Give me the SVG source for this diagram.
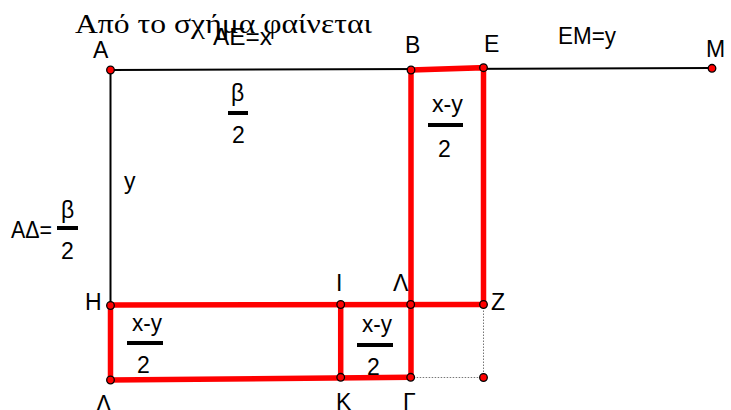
<svg xmlns="http://www.w3.org/2000/svg" width="731" height="410" viewBox="0 0 731 410">
<style>
.t{font-family:"Liberation Sans",Arial,sans-serif;font-size:23px;fill:#000}
.ti{font-family:"Liberation Serif","Times New Roman",serif;font-size:27px;fill:#000}
.red{stroke:#ff0000;stroke-width:5.5;fill:none;stroke-linecap:butt}
.blk{stroke:#000;stroke-width:2;fill:none}
.dot{stroke:#777;stroke-width:1;stroke-dasharray:1.5 1.5;fill:none}
.bar{stroke:#000;stroke-width:4}
.pt{fill:#ff0000;stroke:#000;stroke-width:1.3}
</style>
<rect width="731" height="410" fill="#fff"/>
<text class="ti" x="75" y="33" textLength="297" lengthAdjust="spacingAndGlyphs">Από το σχήμα φαίνεται</text>
<g id="connectors">
<line class="blk" x1="110.5" y1="70" x2="712" y2="68" stroke="#00002a"/>
<line class="blk" x1="110.5" y1="70" x2="110.5" y2="305.5"/>
<line class="dot" x1="483.5" y1="304.5" x2="483.5" y2="377.5"/>
<line class="dot" x1="410.7" y1="377.5" x2="483.5" y2="377.5"/>
<polyline class="red" points="411,70 483.5,67.7 483.5,304.5"/>
<line class="red" x1="411" y1="70" x2="411" y2="377.5"/>
<line class="red" x1="110.5" y1="305" x2="483.5" y2="304.5"/>
<polyline class="red" points="110.5,305 110.5,380 410.7,377.3"/>
<line class="red" x1="340.7" y1="304.5" x2="340.7" y2="377.5"/>
</g>
<g id="A"><circle class="pt" cx="110.5" cy="70" r="3.8"/><text class="t" x="93" y="58">Α</text></g>
<g id="B"><circle class="pt" cx="411" cy="70" r="3.8"/><text class="t" x="405" y="53">Β</text></g>
<g id="E"><circle class="pt" cx="483.5" cy="67.7" r="3.8"/><text class="t" x="484" y="52">Ε</text></g>
<g id="M"><circle class="pt" cx="712" cy="68.3" r="3.8"/><text class="t" x="706" y="57">Μ</text></g>
<g id="H"><circle class="pt" cx="110.5" cy="305.5" r="3.8"/><text class="t" x="85" y="310">Η</text></g>
<g id="Delta"><circle class="pt" cx="110.5" cy="380" r="3.8"/><text class="t" x="96" y="412">Λ</text></g>
<g id="I"><circle class="pt" cx="340.7" cy="304.5" r="3.8"/><text class="t" x="336" y="291">Ι</text></g>
<g id="Lambda"><circle class="pt" cx="410.7" cy="304.5" r="3.8"/><text class="t" x="393" y="291">Λ</text></g>
<g id="Z"><circle class="pt" cx="483.5" cy="304.5" r="3.8"/><text class="t" x="491" y="310">Ζ</text></g>
<g id="K"><circle class="pt" cx="340.7" cy="377.3" r="3.8"/><text class="t" x="336" y="410">Κ</text></g>
<g id="Gamma"><circle class="pt" cx="410.7" cy="377.3" r="3.8"/><text class="t" x="403" y="410">Γ</text></g>
<g id="P"><circle class="pt" cx="483.5" cy="377.5" r="3.8"/></g>
<g id="labels">
<text class="t" x="213" y="45" textLength="59" lengthAdjust="spacingAndGlyphs">ΑΕ=x</text>
<text class="t" x="558" y="44" textLength="58" lengthAdjust="spacingAndGlyphs">ΕΜ=y</text>
<text class="t" x="231" y="101">β</text>
<line class="bar" x1="228" y1="113" x2="248" y2="113"/>
<text class="t" x="232" y="143">2</text>
<text class="t" x="432" y="112" textLength="31" lengthAdjust="spacingAndGlyphs">x-y</text>
<line class="bar" x1="428" y1="125" x2="463" y2="125"/>
<text class="t" x="438" y="157">2</text>
<text class="t" x="124" y="189">y</text>
<text class="t" x="11" y="238" textLength="41" lengthAdjust="spacingAndGlyphs">ΑΔ=</text>
<text class="t" x="61" y="218">β</text>
<line class="bar" x1="57" y1="228" x2="78" y2="228"/>
<text class="t" x="61" y="259">2</text>
<text class="t" x="132" y="331" textLength="30" lengthAdjust="spacingAndGlyphs">x-y</text>
<line class="bar" x1="127" y1="343" x2="163" y2="343"/>
<text class="t" x="137" y="373">2</text>
<text class="t" x="362" y="332" textLength="30" lengthAdjust="spacingAndGlyphs">x-y</text>
<line class="bar" x1="357" y1="345" x2="393" y2="345"/>
<text class="t" x="367" y="375">2</text>
</g>
</svg>
